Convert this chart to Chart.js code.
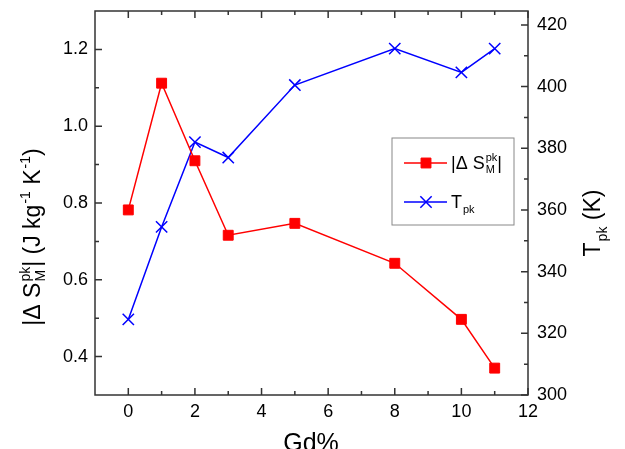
<!DOCTYPE html>
<html>
<head>
<meta charset="utf-8">
<script src="https://cdn.jsdelivr.net/npm/chart.js@4"></script>
<style>
  html, body { margin: 0; padding: 0; background: #fff; }
  #wrap { width: 625px; height: 449px; position: relative; }
</style>
</head>
<body>
<div id="wrap"><canvas id="myChart"></canvas></div>
<script>
const gdPercent = [0, 1, 2, 3, 5, 8, 10, 11];
const deltaS = [0.782, 1.112, 0.910, 0.716, 0.747, 0.643, 0.497, 0.370];
const tPeak = [324.5, 354.5, 382, 377, 400.5, 412.3, 404.6, 412.3];

const xTicks = [0, 2, 4, 6, 8, 10, 12];
const xMinor = [1, 3, 5, 7, 9, 11];
const leftTicks = [0.4, 0.6, 0.8, 1.0, 1.2];
const leftLabels = ["0.4", "0.6", "0.8", "1.0", "1.2"];
const leftMinor = [0.5, 0.7, 0.9, 1.1];
const rightTicks = [300, 320, 340, 360, 380, 400, 420];
const rightLabels = ["300", "320", "340", "360", "380", "400", "420"];
const rightMinor = [310, 330, 350, 370, 390, 410];

// rich text pieces: strings are plain, objects carry sup/sub
const leftTitle = ["|\u0394 S", { sup: "pk", sub: "M" }, "| (J kg", { sup: "-1" }, " K", { sup: "-1" }, ")"];
const rightTitle = ["T", { sub: "pk" }, " (K)"];
const xTitle = ["Gd%"];
const legendTexts = [
    ["|\u0394 S", { sup: "pk", sub: "M" }, "|"],
    ["T", { sub: "pk" }]
];

const FONT = "'Liberation Sans', Arial, sans-serif";

function richWidth(ctx, parts, size) {
    let w = 0;
    for (const p of parts) {
        if (typeof p === "string") {
            ctx.font = `${size}px ${FONT}`;
            w += ctx.measureText(p).width;
        } else {
            ctx.font = `${Math.round(size * 0.62)}px ${FONT}`;
            const a = p.sup ? ctx.measureText(p.sup).width : 0;
            const b = p.sub ? ctx.measureText(p.sub).width : 0;
            w += Math.max(a, b) + 1;
        }
    }
    return w;
}

function drawRich(ctx, parts, x, y, size) {
    ctx.textBaseline = "alphabetic";
    ctx.textAlign = "left";
    for (const p of parts) {
        if (typeof p === "string") {
            ctx.font = `${size}px ${FONT}`;
            ctx.fillText(p, x, y);
            x += ctx.measureText(p).width;
        } else {
            ctx.font = `${Math.round(size * 0.62)}px ${FONT}`;
            let w = 0;
            if (p.sup) {
                ctx.fillText(p.sup, x + 1, y - size * 0.42);
                w = ctx.measureText(p.sup).width;
            }
            if (p.sub) {
                ctx.fillText(p.sub, x + 1, y + size * (p.sup ? 0.22 : 0.3));
                w = Math.max(w, ctx.measureText(p.sub).width);
            }
            x += w + 1;
        }
    }
}

function drawRotated(ctx, parts, cy, baseX, size) {
    ctx.save();
    ctx.translate(baseX, cy);
    ctx.rotate(-Math.PI / 2);
    const w = richWidth(ctx, parts, size);
    drawRich(ctx, parts, -w / 2, 0, size);
    ctx.restore();
}

const framePlugin = {
    id: "frame",
    afterDraw(chart) {
        const ctx = chart.ctx;
        const a = chart.chartArea;
        const xs = chart.scales.x, yl = chart.scales.y, yr = chart.scales.y1;
        ctx.save();
        ctx.strokeStyle = "#333";
        ctx.lineWidth = 1.5;
        ctx.strokeRect(a.left, a.top, a.right - a.left, a.bottom - a.top);
        ctx.beginPath();
        const tickX = (vals, len) => vals.forEach(v => {
            const px = xs.getPixelForValue(v);
            ctx.moveTo(px, a.bottom); ctx.lineTo(px, a.bottom - len);
            ctx.moveTo(px, a.top); ctx.lineTo(px, a.top + len);
        });
        tickX(xTicks, 7); tickX(xMinor, 4);
        const tickL = (vals, len) => vals.forEach(v => {
            const py = yl.getPixelForValue(v);
            ctx.moveTo(a.left, py); ctx.lineTo(a.left + len, py);
        });
        tickL(leftTicks, 7); tickL(leftMinor, 4);
        const tickR = (vals, len) => vals.forEach(v => {
            const py = yr.getPixelForValue(v);
            ctx.moveTo(a.right, py); ctx.lineTo(a.right - len, py);
        });
        tickR(rightTicks, 7); tickR(rightMinor, 4);
        ctx.stroke();

        // axis titles
        ctx.fillStyle = "#000";
        drawRotated(ctx, leftTitle, 237, 40, 23);
        drawRotated(ctx, rightTitle, 223, 600, 23);
        const wx = richWidth(ctx, xTitle, 25);
        drawRich(ctx, xTitle, 311 - wx / 2, 451, 25);

        // legend
        const lx = 392, ly = 138, lw = 122, lh = 87;
        ctx.strokeStyle = "#888";
        ctx.lineWidth = 1;
        ctx.strokeRect(lx, ly, lw, lh);
        const rows = [163, 202];
        chart.data.datasets.forEach((ds, i) => {
            const ry = rows[i];
            ctx.strokeStyle = ds.borderColor;
            ctx.lineWidth = ds.borderWidth;
            ctx.beginPath();
            ctx.moveTo(404, ry); ctx.lineTo(447, ry);
            ctx.stroke();
            ctx.fillStyle = ds.backgroundColor;
            ctx.lineWidth = ds.pointBorderWidth;
            Chart.helpers.drawPoint(ctx, {
                pointStyle: ds.pointStyle, radius: ds.pointRadius,
                borderWidth: ds.pointBorderWidth, rotation: 0
            }, 426, ry);
            ctx.fillStyle = "#000";
            drawRich(ctx, legendTexts[i], 451, ry + 6, 18);
        });
        ctx.restore();
    }
};

const tickFont = { family: FONT, size: 18 };

new Chart(document.getElementById("myChart"), {
    type: "line",
    data: {
        datasets: [
            {
                label: "|\u0394 S_M^pk|",
                data: gdPercent.map((g, i) => ({ x: g, y: deltaS[i] })),
                yAxisID: "y",
                borderColor: "#ff0000",
                backgroundColor: "#ff0000",
                borderWidth: 1.5,
                pointStyle: "rect",
                pointRadius: 7,
                pointBorderWidth: 1,
                tension: 0
            },
            {
                label: "T_pk",
                data: gdPercent.map((g, i) => ({ x: g, y: tPeak[i] })),
                yAxisID: "y1",
                borderColor: "#0000ff",
                backgroundColor: "#0000ff",
                borderWidth: 1.5,
                pointStyle: "crossRot",
                pointRadius: 8,
                pointBorderWidth: 1.5,
                tension: 0
            }
        ]
    },
    options: {
        responsive: true,
        maintainAspectRatio: false,
        animation: false,
        layout: { padding: { top: 11, left: 0, right: 0, bottom: 0 } },
        plugins: {
            legend: { display: false },
            tooltip: { enabled: false }
        },
        scales: {
            x: {
                type: "linear",
                min: -1,
                max: 12,
                grid: { display: false, drawTicks: false },
                border: { display: false },
                ticks: { font: tickFont, color: "#000", padding: 6, maxRotation: 0 },
                afterBuildTicks: s => { s.ticks = xTicks.map(v => ({ value: v })); },
                afterFit: s => { s.height = 54; s.paddingLeft = 0; s.paddingRight = 0; }
            },
            y: {
                position: "left",
                min: 0.3,
                max: 1.3,
                grid: { display: false, drawTicks: false },
                border: { display: false },
                ticks: { font: tickFont, color: "#000", padding: 7,
                    callback: (v, i) => leftLabels[i] },
                afterBuildTicks: s => { s.ticks = leftTicks.map(v => ({ value: v })); },
                afterFit: s => { s.width = 95; s.paddingTop = 0; s.paddingBottom = 0; }
            },
            y1: {
                position: "right",
                min: 300,
                max: 424.5,
                grid: { display: false, drawTicks: false },
                border: { display: false },
                ticks: { font: tickFont, color: "#000", padding: 9,
                    callback: (v, i) => rightLabels[i] },
                afterBuildTicks: s => { s.ticks = rightTicks.map(v => ({ value: v })); },
                afterFit: s => { s.width = 97; s.paddingTop = 0; s.paddingBottom = 0; }
            }
        }
    },
    plugins: [framePlugin]
});
</script>
</body>
</html>
